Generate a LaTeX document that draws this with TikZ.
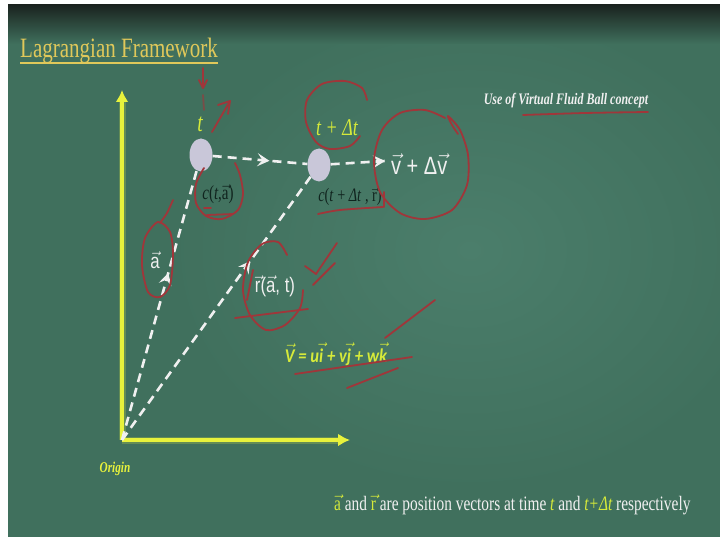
\documentclass[tikz,border=0pt]{standalone}
\usepackage{fontspec}
\setmainfont{Liberation Serif}
\newfontfamily\serifc[FakeStretch=0.75]{Liberation Serif}
\newfontfamily\sansc[FakeStretch=0.8]{Liberation Sans}
\newfontfamily\calc[FakeStretch=0.85]{Carlito}
\usetikzlibrary{arrows.meta,shapes.geometric,decorations.markings}
\definecolor{board}{HTML}{40705D}
\definecolor{boardlight}{HTML}{4B7E6B}
\definecolor{boarddark}{HTML}{1A231F}
\definecolor{axisyel}{HTML}{E8F23C}
\definecolor{lblyel}{HTML}{D6EA3A}
\definecolor{titlegold}{HTML}{E0C85A}
\definecolor{chalk}{HTML}{F0F0F0}
\definecolor{ballc}{HTML}{C9C7D9}
\definecolor{pen}{HTML}{A0363A}
\definecolor{darktext}{HTML}{10241E}
\newcommand\myvec[1]{$\vec{\mbox{#1}}$}
\begin{document}
\begin{tikzpicture}[x=1pt,y=-1pt,
  axisline/.style={draw=axisyel, line width=3.2pt, -{Latex[length=12pt,width=13pt]}},
  axisglow/.style={draw=axisyel, line width=7pt, opacity=0.22},
  wdash/.style={draw=chalk, line width=2.6pt, dash pattern=on 9pt off 6pt},
  midarrow/.style={decoration={markings, mark=at position #1 with {\arrow[chalk, solid]{Stealth[length=12pt,width=13pt,inset=5pt]}}}, postaction={decorate}},
  redpen/.style={draw=pen, line width=1.8pt, line cap=round, line join=round},
  ball/.style={ellipse, fill=ballc, minimum width=23pt, minimum height=33pt, inner sep=0pt},
  lbl/.style={inner sep=0pt}
]
\useasboundingbox (0,0) rectangle (720,540);
% board
\fill[white] (0,0) rectangle (720,540);
\begin{scope}
\clip (8,5) rectangle (720,537);
\fill[board] (8,5) rectangle (720,537);
\shade[inner color=boardlight, outer color=board] (470,250) ellipse (300 and 240);
\shade[top color=boarddark, bottom color=board] (8,5) rectangle (720,44);
\end{scope}

% title
\node[lbl, anchor=base west, text=titlegold, font=\serifc\fontsize{28}{30}\selectfont] (title) at (20,58) {Lagrangian Framework};
\draw[titlegold, line width=1.4pt] ([yshift=-5pt]title.base west) -- ([yshift=-5pt]title.base east);
\node[lbl, anchor=base, text=chalk, font=\serifc\bfseries\itshape\fontsize{16}{18}\selectfont] (use) at (566,105) {Use of Virtual Fluid Ball concept};

% axes
\coordinate (origin) at (122,440);
\coordinate (ytip) at (122,90);
\coordinate (xtip) at (350,440);
\draw[axisglow] (origin) -- (122,100);
\draw[axisglow] (origin) -- (340,440);
\draw[axisline] (origin) -- (ytip);
\draw[axisline] (origin) -- (xtip);
\node[lbl, anchor=base, text=axisyel, font=\serifc\bfseries\itshape\fontsize{15}{17}\selectfont] (orig) at (115,472) {Origin};

% balls
\node[ball] (b1) at (201,155) {};
\node[ball] (b2) at (319,165) {};
\coordinate (vend) at (385,161);

% dashed paths
\draw[wdash, midarrow=0.62] (origin) -- (b1);
\draw[wdash, midarrow=0.68] (origin) -- (b2);
\draw[wdash, midarrow=0.6] (b1) -- (b2);
\draw[wdash, midarrow=1] (b2) -- (vend);

% labels
\node[lbl, text=lblyel, font=\serifc\itshape\fontsize{26}{28}\selectfont] (tlab) at (200,124) {t};
\node[lbl, text=lblyel, font=\serifc\itshape\fontsize{24}{26}\selectfont] (tdt) at (337,128) {t + Δt};
\node[lbl, text=darktext, font=\serifc\fontsize{20}{22}\selectfont] (c1) at (218,194) {\textit{c}(\textit{t},\myvec{a})};
\node[lbl, text=darktext, font=\serifc\fontsize{19}{21}\selectfont] (c2) at (350,197) {\textit{c}(\textit{t} + \textit{Δt} , \myvec{r})};
\node[lbl, anchor=west, text=chalk, font=\sansc\fontsize{25}{27}\selectfont] (vdv) at (391,164) {\myvec{v} + Δ\myvec{v}};
\node[lbl, text=chalk, font=\sansc\fontsize{21}{23}\selectfont] (alab) at (155,260) {\myvec{a}};
\node[lbl, text=chalk, font=\sansc\fontsize{21}{23}\selectfont] (rlab) at (275,286) {\myvec{r}(\myvec{a}, t)};
\node[lbl, text=lblyel, font=\calc\bfseries\itshape\fontsize{19.5}{21}\selectfont] (vform) at (336,354) {\myvec{V} = u\myvec{i} + v\myvec{j} + w\myvec{k}};
\node[lbl, anchor=base west, text=chalk, font=\serifc\fontsize{20.5}{22}\selectfont] (note) at (334,510)
  {{\color{lblyel}\myvec{a}} and {\color{lblyel}\myvec{r}} are position vectors at time {\color{lblyel}\itshape t} and {\color{lblyel}\itshape t+Δt} respectively};

% red annotations
\draw[redpen] (203,68) -- (203,88);
\draw[redpen] (199,80) -- (203,88) -- (207,80);
\draw[redpen, opacity=0.6] (203,95) -- (204,110);
\draw[redpen] (212,132) -- (230,101);
\draw[redpen] (218,105) -- (230,101) -- (228,114);
\draw[redpen] plot[smooth] coordinates {(204,168) (196,184) (196,203) (206,216) (222,219) (238,210) (243,194) (240,175) (235,163)};
\draw[redpen] (204,208) -- (211,208);
\draw[redpen] (207,215) -- (233,214);
\draw[redpen] plot[smooth] coordinates {(173,200) (167,213) (160,223)};
\draw[redpen] plot[smooth cycle] coordinates {(158,222) (170,232) (173,255) (170,285) (160,297) (148,292) (142,265) (145,238)};
\draw[redpen] plot[smooth] coordinates {(367,100) (362,88) (345,81) (322,84) (307,100) (306,122) (316,142) (330,149) (350,146) (360,136)};
\draw[redpen] plot[smooth] coordinates {(445,118) (425,110) (400,113) (382,130) (374,160) (380,192) (400,213) (425,219) (452,210) (467,185) (468,155) (460,130) (448,116) (452,125) (458,134)};
\draw[redpen] plot[smooth] coordinates {(318,214) (340,210) (383,207)};
\draw[redpen] (384,192) -- (384,207);
\draw[redpen] plot[smooth] coordinates {(287,255) (278,242) (262,244) (248,262) (243,290) (250,315) (266,330) (285,325) (300,308) (303,290)};
\draw[redpen] (235,318) -- (308,309);
\draw[redpen] (253,270) -- (247,300);
\draw[redpen] (305,266) -- (316,274) -- (337,243);
\draw[redpen] (313,285) -- (335,263);
\draw[redpen] (385,338) -- (435,300);
\draw[redpen] plot[smooth] coordinates {(295,374) (350,366) (412,357)};
\draw[redpen] (347,388) -- (398,368);
\draw[redpen] plot[smooth] coordinates {(523,115) (585,113) (648,112)};
\end{tikzpicture}
\end{document}
